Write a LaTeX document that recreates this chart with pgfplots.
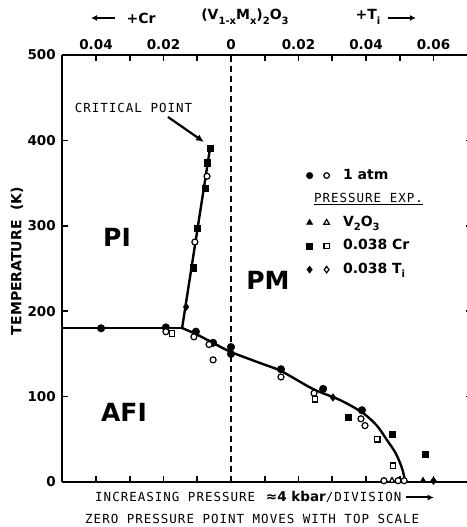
\documentclass[border=0pt]{standalone}
\usepackage{pgfplots}
\pgfplotsset{compat=1.18}
\usepackage{fontspec}
\setmainfont{DejaVu Sans}
\newfontfamily\mono[LetterSpace=8]{DejaVu Sans Mono}
\usetikzlibrary{arrows.meta}
\newcommand\sub[1]{\raisebox{-0.32em}{\fontsize{10}{10}\selectfont #1}}
\begin{document}
\begin{tikzpicture}[x=1pt,y=1pt]
\useasboundingbox (0,0) rectangle (466,527);
\begin{axis}[
  at={(62.25pt,45pt)}, anchor=south west,
  scale only axis, width=405pt, height=427pt,
  xmin=-0.05, xmax=0.07, ymin=0, ymax=500,
  axis y line*=left,
  axis line style={line width=2pt},
  clip=false,
  scaled x ticks=false,
  xtick={-0.04,-0.02,0,0.02,0.04,0.06},
  xticklabels={0.04,0.02,0,0.02,0.04,0.06},
  minor xtick={-0.03,-0.01,0.01,0.03,0.05},
  xticklabel pos=upper,
  xtick pos=both,
  ytick={0,100,200,300,400,500},
  extra y ticks={180}, extra y tick labels={},
  tick align=inside,
  major tick length=6pt, minor tick length=6pt,
  tick style={line width=1.6pt, black},
  /pgf/number format/assume math mode=true,
  tick label style={font=\fontsize{13.5}{14}\selectfont\bfseries},
  xticklabel style={yshift=2pt},
  yticklabel style={xshift=-3pt},
  legend style={draw=none, fill=none, at={(axis cs:0.0222,369)}, anchor=north west,
    inner sep=0pt, row sep=6.5pt, column sep=11pt,
    nodes={inner sep=2pt, text height=10pt, text depth=3pt, font=\fontsize{14}{14}\selectfont\bfseries}},
  legend cell align=left,
]
% boundaries
\addplot[forget plot, line width=2.4pt] coordinates {(-0.05,180) (-0.0145,180)};
\addplot[forget plot, line width=2.4pt] coordinates {(-0.0145,180) (-0.0062,391)};
\addplot[forget plot, line width=2.4pt, smooth, tension=0.5] coordinates {
(-0.0145,180.3) (-0.0104,173.3) (-0.0053,162.8) (0,152.2) (0.0086,139.3)
(0.0148,130) (0.0243,108.9) (0.0323,96) (0.0391,80.8) (0.0433,65.6)
(0.0462,49.2) (0.0486,35.1) (0.0501,22.2) (0.0510,11.7) (0.0516,0)};
\addplot[forget plot, line width=2.2pt, dash pattern=on 6pt off 4pt] coordinates {(0,0) (0,500)};
% filled circles
\addplot[forget plot, only marks, mark=*, mark size=3.8pt, black] coordinates {
(-0.0385,180) (-0.0193,181) (-0.0104,176) (-0.0053,163) (0,158) (0,150)
(0.0148,132) (0.0273,109) (0.0388,84)};
% open circles
\addplot[forget plot, only marks, mark=*, mark size=3pt, mark options={fill=white, draw=black, line width=1.2pt}] coordinates {
(-0.0193,176) (-0.011,170) (-0.0065,161) (-0.0053,143) (-0.0107,281) (-0.0071,358)
(0.0148,123) (0.0246,104) (0.0385,74) (0.0397,66) (0.0453,1.5) (0.0495,1.5) (0.0513,1.5)};
% filled squares
\addplot[forget plot, only marks, mark=square*, mark size=3.1pt, black] coordinates {
(-0.01126,251) (-0.01007,297) (-0.0077,344) (-0.0071,374) (-0.0062,391)
(0.0347,76) (0.0477,56) (0.0575,33)};
% open squares
\addplot[forget plot, only marks, mark=square*, mark size=2.8pt, mark options={fill=white, draw=black, line width=1.2pt}] coordinates {
(-0.0175,174) (0.0249,97) (0.0433,50) (0.0480,19)};
% filled diamonds
\addplot[forget plot, only marks, mark=diamond*, mark size=3.8pt, black] coordinates {
(-0.0133,205) (0.0302,99) (0.0600,1.5)};
% triangles
\addplot[forget plot, only marks, mark=triangle*, mark size=3.2pt, mark options={fill=white, draw=black, line width=1.2pt}] coordinates {(0.0477,1.5)};
\addplot[forget plot, only marks, mark=triangle*, mark size=3.6pt, black] coordinates {(0.0569,1.5)};
% right-hand ticks
\draw[line width=1.6pt] (axis cs:0.0695,100) -- ++(-6pt,0);
\draw[line width=1.6pt] (axis cs:0.0695,200) -- ++(-6pt,0);
\draw[line width=1.6pt] (axis cs:0.0695,300) -- ++(-6pt,0);
\draw[line width=1.6pt] (axis cs:0.0695,400) -- ++(-6pt,0);
% legend
\addlegendimage{legend image code/.code={\fill[black] (0pt,0pt) circle (3.3pt); \draw[line width=1.2pt] (17pt,0pt) circle (2.8pt);}}
\addlegendentry{1 atm}
\addlegendimage{empty legend}
\addlegendentry{\hspace*{-29pt}{\mono\fontsize{12.5}{13}\selectfont\mdseries\underline{PRESSURE EXP.}}}
\addlegendimage{legend image code/.code={\draw[mark=triangle*, mark size=3.5pt, black] plot coordinates {(0pt,0pt)}; \draw[mark=triangle*, mark size=3.2pt, mark options={fill=white, line width=1.2pt}] plot coordinates {(17pt,0pt)};}}
\addlegendentry{V\sub{2}O\sub{3}}
\addlegendimage{legend image code/.code={\draw[mark=square*, mark size=3pt, black] plot coordinates {(0pt,0pt)}; \draw[mark=square*, mark size=2.7pt, mark options={fill=white, line width=1.2pt}] plot coordinates {(17pt,0pt)};}}
\addlegendentry{0.038 Cr}
\addlegendimage{legend image code/.code={\draw[mark=diamond*, mark size=3.6pt, black] plot coordinates {(0pt,0pt)}; \draw[mark=diamond*, mark size=3.2pt, mark options={fill=white, line width=1.2pt}] plot coordinates {(17pt,0pt)};}}
\addlegendentry{0.038 T\sub{i}}
\end{axis}
% labels
\node[rotate=90, font=\fontsize{14}{14}\selectfont\bfseries] at (17,266) {TEMPERATURE\ \ (K)};
\node[font=\fontsize{25}{25}\selectfont\bfseries] at (117,290) {PI};
\node[font=\fontsize{25}{25}\selectfont\bfseries] at (268,247) {PM};
\node[font=\fontsize{25}{25}\selectfont\bfseries] at (124,115) {AFI};
\node[font=\mono\fontsize{12.5}{13}\selectfont] at (133.5,419) {CRITICAL POINT};
\draw[line width=2.2pt, -{Latex[length=8pt,width=7pt]}] (168,410) -- (204,385);
% top labels
\draw[line width=2pt, -{Latex[length=6pt,width=6pt]}] (115,509) -- (91,509);
\node[font=\fontsize{14}{14}\selectfont\bfseries] at (141,509) {+Cr};
\node[font=\fontsize{14}{14}\selectfont\bfseries] at (245,510) {(V\sub{1-x}M\sub{x})\sub{2}O\sub{3}};
\node[font=\fontsize{14}{14}\selectfont\bfseries] at (368,510) {+T\sub{i}};
\draw[line width=2pt, -{Latex[length=6pt,width=6pt]}] (388,509) -- (416,509);
% bottom text
\node[anchor=base west, inner sep=0pt] (l1) at (95,25) {\mono\fontsize{12.5}{13}\selectfont INCREASING PRESSURE {\normalfont\bfseries\fontsize{13.5}{14}\selectfont\,≈4 kbar}/DIVISION};
\draw[line width=2pt, -{Latex[length=6pt,width=6pt]}] ([xshift=4pt,yshift=4.5pt]l1.base east) -- ++(28,0);
\node[anchor=base west, inner sep=0pt] at (85,3) {\mono\fontsize{12.5}{13}\selectfont ZERO PRESSURE POINT MOVES WITH TOP SCALE};
\end{tikzpicture}
\end{document}
